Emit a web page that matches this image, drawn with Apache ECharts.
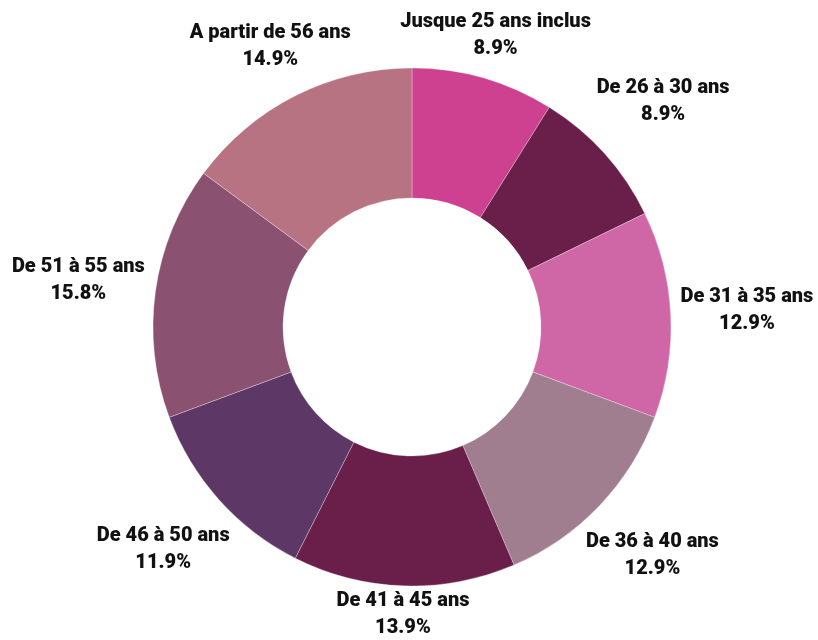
<!DOCTYPE html>
<html>
<head>
<meta charset="utf-8">
<script src="https://cdn.jsdelivr.net/npm/echarts@6/dist/echarts.min.js"></script>
<style>
  html, body { margin: 0; padding: 0; background: #fff; }
  #chart { width: 818px; height: 640px; }
</style>
</head>
<body>
<div id="chart"></div>
<script>
// tranches d'âge
const categories = [
  'Jusque 25 ans inclus', 'De 26 à 30 ans', 'De 31 à 35 ans', 'De 36 à 40 ans',
  'De 41 à 45 ans', 'De 46 à 50 ans', 'De 51 à 55 ans', 'A partir de 56 ans'
];
// pourcentages
const percents = [8.9, 8.9, 12.9, 12.9, 13.9, 11.9, 15.8, 14.9];
const colors = ['#ce4090', '#6a1f4b', '#cf66a6', '#a07e90', '#6a1f4b', '#5d3766', '#8a5270', '#b87383'];

const cx = 412, cy = 327;
const total = percents.reduce((a, b) => a + b, 0);

// angle du milieu de chaque part (depuis le haut, sens horaire)
const midAngles = [];
let acc = 0;
percents.forEach(v => {
  midAngles.push((acc + v / 2) / total * Math.PI * 2);
  acc += v;
});

// position des étiquettes sur une super-ellipse autour de l'anneau
function labelPos(theta) {
  const dx = Math.sin(theta), dy = -Math.cos(theta);
  const rx = 335, ry = dy > 0 ? 288 : 295, n = 2.5;
  const s = Math.pow(Math.abs(dx) / rx, n) + Math.pow(Math.abs(dy) / ry, n);
  const t = Math.pow(1 / s, 1 / n);
  return [cx + dx * t, cy + dy * t];
}

const chart = echarts.init(document.getElementById('chart'));
chart.setOption({
  animation: false,
  series: [{
    type: 'pie',
    center: [cx, cy],
    radius: [129, 259],
    startAngle: 90,
    clockwise: true,
    itemStyle: { borderColor: 'rgba(255,255,255,0.6)', borderWidth: 0.5 },
    label: {
      show: true,
      position: 'outside',
      alignTo: 'none',
      overflow: 'none',
      formatter: p => p.name + '\n' + p.value.toFixed(1) + '%',
      fontFamily: 'Roboto',
      fontWeight: 900,
      fontSize: 20,
      lineHeight: 27,
      color: '#111'
    },
    labelLine: { show: false },
    labelLayout: function (params) {
      const pos = labelPos(midAngles[params.dataIndex]);
      return { x: pos[0], y: pos[1], align: 'center', verticalAlign: 'middle' };
    },
    emphasis: { disabled: true },
    data: categories.map((name, i) => ({
      name: name,
      value: percents[i],
      itemStyle: { color: colors[i] }
    }))
  }]
});
</script>
</body>
</html>
